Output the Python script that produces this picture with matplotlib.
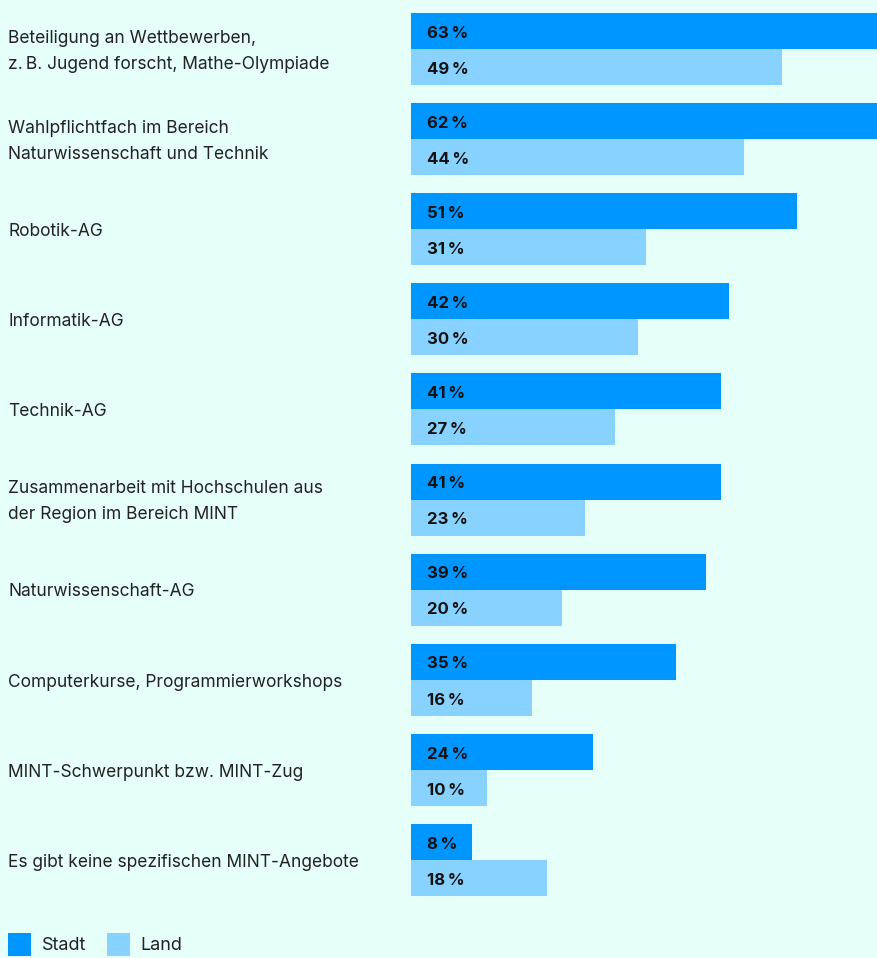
import matplotlib.pyplot as plt
import numpy as np

kategorien = [
    "Beteiligung an Wettbewerben,\nz.\u2009B. Jugend forscht, Mathe-Olympiade",
    "Wahlpflichtfach im Bereich\nNaturwissenschaft und Technik",
    "Robotik-AG",
    "Informatik-AG",
    "Technik-AG",
    "Zusammenarbeit mit Hochschulen aus\nder Region im Bereich MINT",
    "Naturwissenschaft-AG",
    "Computerkurse, Programmierworkshops",
    "MINT-Schwerpunkt bzw. MINT-Zug",
    "Es gibt keine spezifischen MINT-Angebote",
]
stadt = [63, 62, 51, 42, 41, 41, 39, 35, 24, 8]
land = [49, 44, 31, 30, 27, 23, 20, 16, 10, 18]
serien = ["Stadt", "Land"]

BG = "#E6FFF8"
C_STADT = "#0096FF"
C_LAND = "#87D2FF"
TXT = "#222222"

plt.rcParams['font.family'] = ['Inter', 'DejaVu Sans']

W, H = 878, 958
fig = plt.figure(figsize=(W / 100, H / 100), dpi=100, facecolor=BG)
ax = fig.add_axes([411 / W, 62 / H, 1 - 411 / W, 883 / H])
ax.set_facecolor(BG)

y = np.arange(len(kategorien))
bh = 0.4
ax.barh(y - bh / 2, stadt, height=bh, color=C_STADT, label=serien[0])
ax.barh(y + bh / 2, land, height=bh, color=C_LAND, label=serien[1])

ax.set_xlim(0, (W - 411) / 7.57)
ax.set_ylim(len(kategorien) - 0.6, -0.4)
ax.axis('off')

# Werte in den Balken (leicht nach unten versetzt wie im Original)
dy = 0.025
for i in range(len(kategorien)):
    ax.text(2.1, y[i] - bh / 2 + dy, f"{stadt[i]}\u2009%", ha='left', va='center',
            fontsize=12, fontweight='bold', color='#111111')
    ax.text(2.1, y[i] + bh / 2 + dy, f"{land[i]}\u2009%", ha='left', va='center',
            fontsize=12, fontweight='bold', color='#111111')

# Kategorien links
trans = ax.get_yaxis_transform()
x_lab = -(411 - 8) / (W - 411)
for i, k in enumerate(kategorien):
    ax.text(x_lab, y[i] + dy, k, transform=trans, ha='left', va='center',
            fontsize=12.5, color=TXT, linespacing=1.7, clip_on=False)

leg = fig.legend(loc='lower left', bbox_to_anchor=(8 / W, 2 / H), ncol=2,
                 frameon=False, fontsize=13, handlelength=1.27, handleheight=1.58,
                 handletextpad=0.6, columnspacing=1.16, borderaxespad=0,
                 borderpad=0)
for t in leg.get_texts():
    t.set_color(TXT)

fig.savefig("out.png", dpi=100, facecolor=BG)
